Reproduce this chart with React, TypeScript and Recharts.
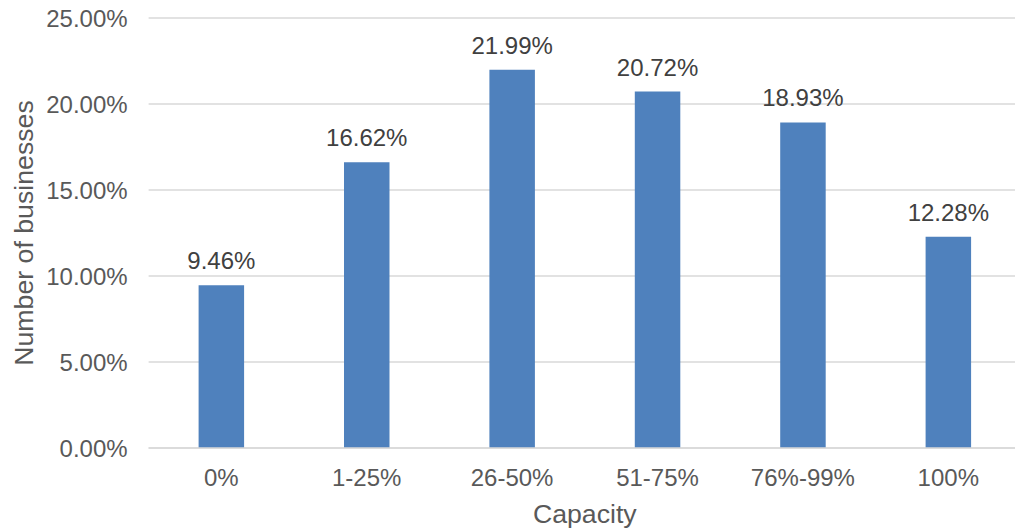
import React from 'react';
import { BarChart, Bar, XAxis, YAxis, CartesianGrid, LabelList } from 'recharts';

const capacityLabels = ['0%', '1-25%', '26-50%', '51-75%', '76%-99%', '100%'];
const businessShares = [9.46, 16.62, 21.99, 20.72, 18.93, 12.28];
const yTicks = [0, 5, 10, 15, 20, 25];

const chartData = capacityLabels.map((capacity, i) => ({
  capacity,
  share: businessShares[i],
}));

const pct = (v: number) => `${Number(v).toFixed(2)}%`;

const FONT = '"Liberation Sans", Arial, sans-serif';

const App: React.FC = () => {
  return (
    <div style={{ position: 'fixed', top: 0, left: 0, width: 1015, height: 529, overflow: 'hidden', background: '#fff' }}>
      <BarChart
        width={1030}
        height={529}
        data={chartData}
        margin={{ top: 18, right: 9, left: 0, bottom: 0 }}
        style={{ fontFamily: FONT }}
      >
        <CartesianGrid vertical={false} stroke="#d9d9d9" strokeWidth={1.5} />
        <XAxis
          dataKey="capacity"
          height={81}
          tickLine={false}
          tickSize={0}
          tickMargin={21}
          axisLine={{ stroke: '#d9d9d9', strokeWidth: 1.5 }}
          tick={{ fill: '#595959', fontSize: 24, fontFamily: FONT }}
          label={{ value: 'Capacity', position: 'insideBottom', offset: 6, fill: '#595959', fontSize: 26.7, fontFamily: FONT }}
        />
        <YAxis
          width={148.6}
          domain={[0, 25]}
          ticks={yTicks}
          tickFormatter={pct}
          axisLine={false}
          tickLine={false}
          tickSize={0}
          tickMargin={21}
          tick={{ fill: '#595959', fontSize: 24, fontFamily: FONT }}
          label={{
            value: 'Number of businesses',
            angle: -90,
            position: 'insideLeft',
            offset: 23.5,
            fill: '#595959',
            fontSize: 26.7,
            fontFamily: FONT,
            style: { textAnchor: 'middle' },
          }}
        />
        <Bar dataKey="share" fill="#4f81bd" barSize={45.5} isAnimationActive={false}>
          <LabelList
            dataKey="share"
            position="top"
            offset={16}
            formatter={pct}
            fill="#404040"
            fontSize={24}
            fontFamily={FONT}
          />
        </Bar>
      </BarChart>
    </div>
  );
};

export default App;
